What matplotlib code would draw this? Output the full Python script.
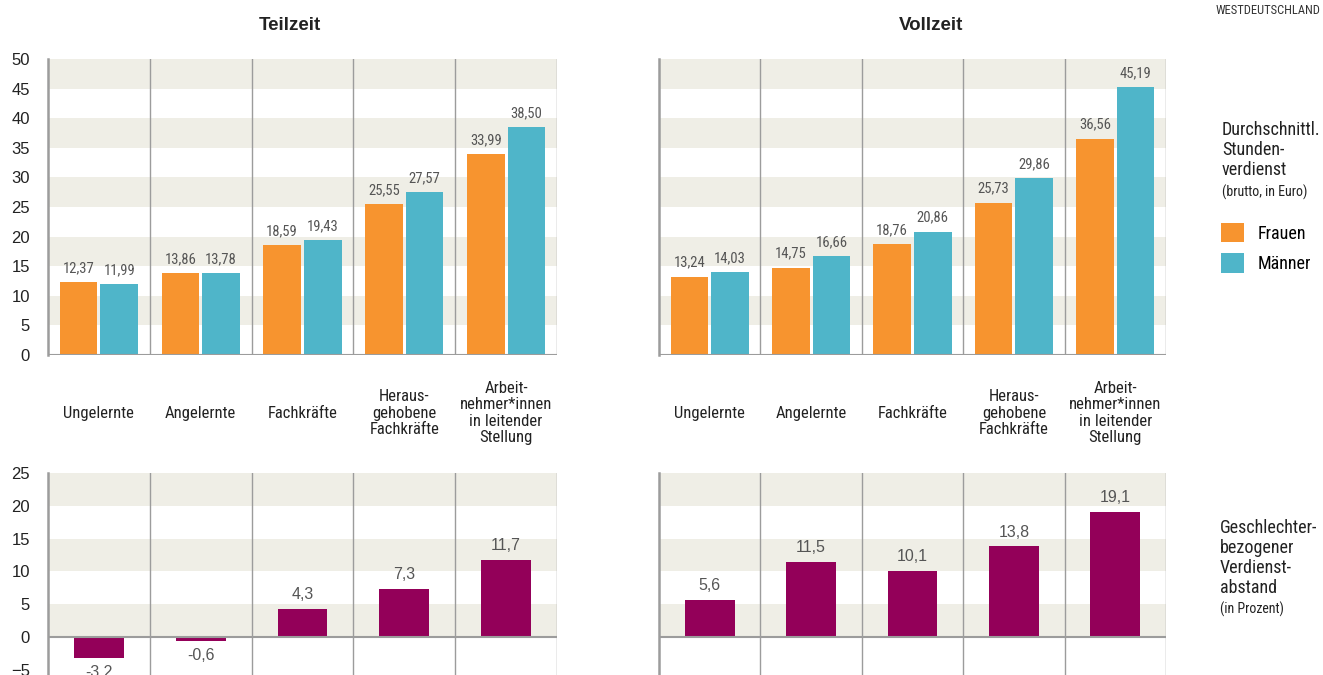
import numpy as np
import matplotlib.pyplot as plt

kategorien = ["Ungelernte", "Angelernte", "Fachkräfte",
              "Heraus-\ngehobene\nFachkräfte",
              "Arbeit-\nnehmer*innen\nin leitender\nStellung"]
teilzeit_frauen = [12.37, 13.86, 18.59, 25.55, 33.99]
teilzeit_maenner = [11.99, 13.78, 19.43, 27.57, 38.50]
vollzeit_frauen = [13.24, 14.75, 18.76, 25.73, 36.56]
vollzeit_maenner = [14.03, 16.66, 20.86, 29.86, 45.19]
abstand_teilzeit = [-3.2, -0.6, 4.3, 7.3, 11.7]
abstand_vollzeit = [5.6, 11.5, 10.1, 13.8, 19.1]

ORANGE = '#F7942F'
TEAL = '#4FB5C9'
PURPLE = '#930059'
BAND = '#EFEEE6'
LINE = '#9C9C9C'
COND = ['Roboto Condensed', 'DejaVu Sans']

plt.rcParams['font.family'] = ['Liberation Sans', 'DejaVu Sans']

W, H = 1323, 675
fig = plt.figure(figsize=(W / 100, H / 100), dpi=100)


def px_axes(x0, y0, x1, y1):
    return fig.add_axes([x0 / W, 1 - y1 / H, (x1 - x0) / W, (y1 - y0) / H])


def fmt(v, nd):
    return f"{v:.{nd}f}".replace('.', ',')


x = np.arange(len(kategorien))


def style(ax, ylo, yhi, band_starts, ticks, show_labels):
    ax.set_xlim(-0.5, len(kategorien) - 0.5)
    ax.set_ylim(ylo, yhi)
    for b in band_starts:
        ax.axhspan(b, b + 5, color=BAND, lw=0, zorder=0)
    for s in x + 0.5:
        ax.axvline(s, color=LINE, lw=1, zorder=1)
    for sp in ['top', 'right', 'bottom']:
        ax.spines[sp].set_visible(False)
    ax.spines['left'].set_color(LINE)
    ax.spines['left'].set_linewidth(1.8)
    ax.axhline(0, color=LINE, lw=1.5, zorder=3)
    ax.set_xticks([])
    ax.set_yticks(ticks)
    ax.tick_params(axis='y', length=0, pad=13, labelsize=12,
                   labelcolor='#222222', labelleft=show_labels)


def top_chart(ax, frauen, maenner, show_labels):
    style(ax, 0, 50, range(5, 50, 10), range(0, 51, 5), show_labels)
    bf = ax.bar(x - 0.2, frauen, 0.37, color=ORANGE, zorder=2)
    bm = ax.bar(x + 0.2, maenner, 0.37, color=TEAL, zorder=2)
    for bars, vals in [(bf, frauen), (bm, maenner)]:
        for r, v in zip(bars, vals):
            ax.annotate(fmt(v, 2), (r.get_x() + r.get_width() / 2, v),
                        xytext=(0, 5), textcoords='offset points',
                        ha='center', va='bottom', fontsize=10.5,
                        family=COND, color='#555555')
    for xi, cat in zip(x, kategorien):
        ax.text(xi, -0.196, cat, transform=ax.get_xaxis_transform(),
                ha='center', va='center', fontsize=12, family=COND,
                linespacing=1.12, color='#222222')
    return bf, bm


def bottom_chart(ax, werte, show_labels):
    style(ax, -6, 25, range(0, 25, 10), range(-5, 26, 5), show_labels)
    ax.bar(x, werte, 0.49, color=PURPLE, zorder=2)
    for xi, v in zip(x, werte):
        ax.annotate(fmt(v, 1), (xi, v),
                    xytext=(0, 5 if v >= 0 else -5), textcoords='offset points',
                    ha='center', va='bottom' if v >= 0 else 'top',
                    fontsize=11.5, color='#555555')


ax_tl = px_axes(48, 59, 557, 355)
ax_tr = px_axes(659, 59, 1166, 355)
ax_bl = px_axes(48, 473, 557, 676.4)
ax_br = px_axes(659, 473, 1166, 676.4)

bf, bm = top_chart(ax_tl, teilzeit_frauen, teilzeit_maenner, True)
top_chart(ax_tr, vollzeit_frauen, vollzeit_maenner, False)
bottom_chart(ax_bl, abstand_teilzeit, True)
bottom_chart(ax_br, abstand_vollzeit, False)

fig.text(290 / W, 1 - 25 / H, 'Teilzeit', ha='center', va='center',
         fontsize=13.5, fontweight='bold', color='#222222')
fig.text(931 / W, 1 - 25 / H, 'Vollzeit', ha='center', va='center',
         fontsize=13.5, fontweight='bold', color='#222222')
fig.text(1320 / W, 1 - 11 / H, 'WESTDEUTSCHLAND', ha='right', va='center',
         fontsize=9, family=COND, color='#333333')

fig.text(1222 / W, 1 - 121 / H, 'Durchschnittl.\nStunden-\nverdienst',
         ha='left', va='top', fontsize=13, family=COND, linespacing=1.15,
         color='#222222')
fig.text(1222 / W, 1 - 192 / H, '(brutto, in Euro)', ha='left', va='center',
         fontsize=10, family=COND, color='#222222')
fig.legend([bf, bm], ['Frauen', 'Männer'], loc='upper left',
           bbox_to_anchor=(1221 / W, 1 - 223 / H), frameon=False,
           handlelength=1.25, handleheight=1.25, labelspacing=0.6,
           handletextpad=0.8, borderpad=0, borderaxespad=0,
           prop={'family': COND, 'size': 13})

fig.text(1220 / W, 1 - 519 / H, 'Geschlechter-\nbezogener\nVerdienst-\nabstand',
         ha='left', va='top', fontsize=13, family=COND, linespacing=1.15,
         color='#222222')
fig.text(1220 / W, 1 - 609 / H, '(in Prozent)', ha='left', va='center',
         fontsize=10, family=COND, color='#222222')

fig.savefig('out.png', dpi=100)
